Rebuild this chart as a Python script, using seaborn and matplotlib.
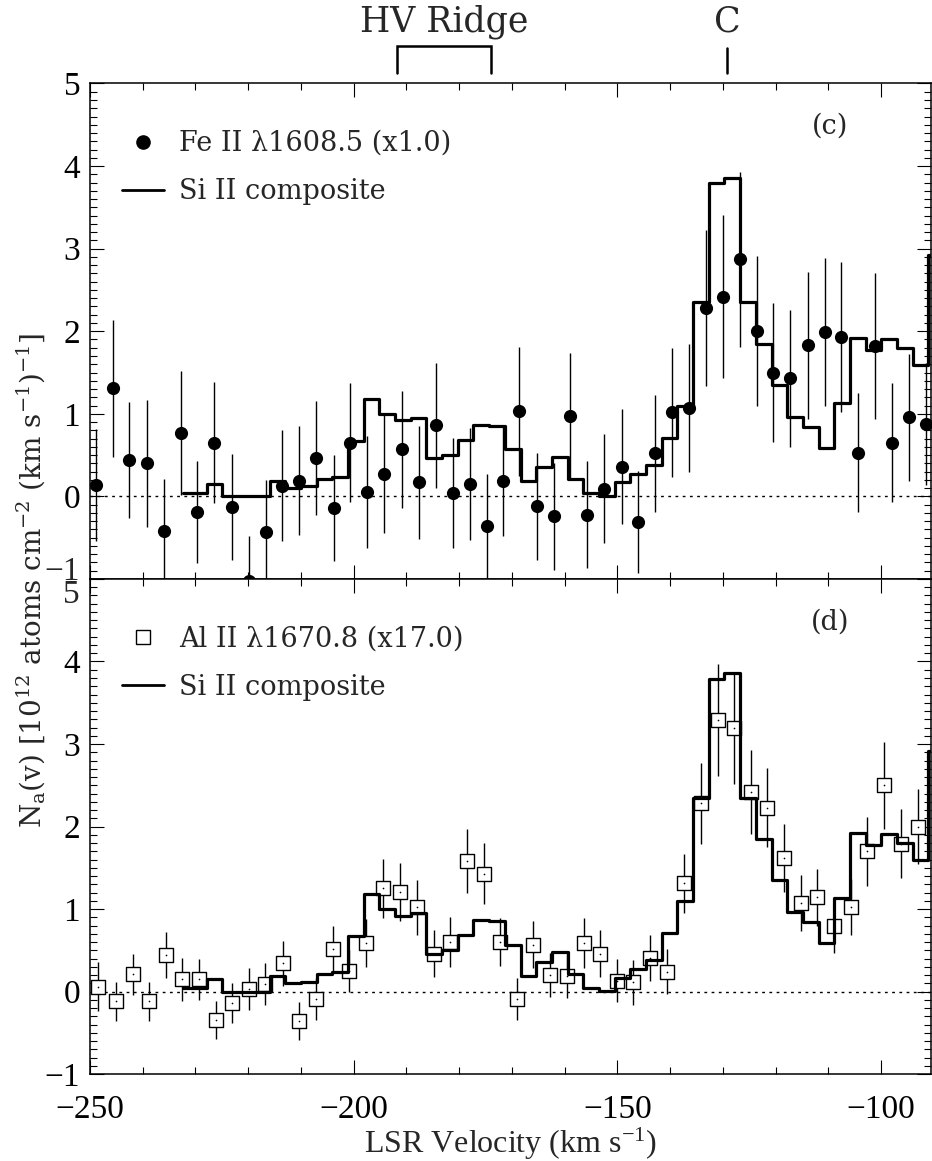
import matplotlib
matplotlib.use("Agg")
import matplotlib.pyplot as plt
import matplotlib.transforms as mtransforms
from matplotlib.ticker import MultipleLocator, FuncFormatter
from matplotlib.lines import Line2D
import seaborn as sns

# ---------------------------------------------------------------- data
# Fe II 1608.5 apparent column density profile (x1.0)
fe_vel = [-248.9, -245.7, -242.5, -239.2, -236.0, -232.8, -229.7, -226.4, -223.1, -219.9,
          -216.7, -213.5, -210.3, -207.1, -203.8, -200.6, -197.4, -194.2, -190.9, -187.7,
          -184.4, -181.2, -178.0, -174.8, -171.6, -168.6, -165.3, -162.1, -159.0, -155.7,
          -152.5, -149.2, -146.1, -142.9, -139.7, -136.4, -133.2, -130.0, -126.8, -123.6,
          -120.4, -117.2, -113.9, -110.7, -107.6, -104.3, -101.1, -97.9, -94.7, -91.4]
fe_na = [0.14, 1.31, 0.44, 0.40, -0.42, 0.77, -0.19, 0.65, -0.13, -1.02,
         -0.43, 0.13, 0.19, 0.47, -0.14, 0.65, 0.05, 0.27, 0.57, 0.17,
         0.86, 0.04, 0.15, -0.36, 0.19, 1.03, -0.12, -0.24, 0.97, -0.22,
         0.09, 0.36, -0.31, 0.52, 1.02, 1.07, 2.28, 2.42, 2.87, 2.00,
         1.50, 1.43, 1.83, 1.99, 1.93, 0.53, 1.82, 0.65, 0.96, 0.88]
fe_err = [0.68, 0.83, 0.70, 0.77, 0.63, 0.75, 0.62, 0.73, 0.64, 0.54,
          0.63, 0.67, 0.66, 0.69, 0.64, 0.72, 0.68, 0.71, 0.71, 0.68,
          0.76, 0.67, 0.68, 0.63, 0.67, 0.78, 0.65, 0.65, 0.77, 0.65,
          0.66, 0.70, 0.62, 0.71, 0.78, 0.77, 0.94, 0.99, 1.06, 0.91,
          0.84, 0.83, 0.89, 0.90, 0.91, 0.72, 0.88, 0.72, 0.77, 0.74]

# Al II 1670.8 apparent column density profile (x17.0)
al_vel = [-248.4, -245.1, -241.9, -238.8, -235.6, -232.5, -229.3, -226.1, -223.0, -219.8,
          -216.8, -213.4, -210.3, -207.1, -203.9, -200.8, -197.6, -194.4, -191.2, -188.0,
          -184.8, -181.7, -178.5, -175.3, -172.2, -169.1, -165.9, -162.8, -159.6, -156.4,
          -153.3, -150.1, -147.0, -143.8, -140.5, -137.4, -134.2, -131.0, -127.9, -124.7,
          -121.6, -118.4, -115.2, -112.1, -108.9, -105.7, -102.6, -99.4, -96.2, -93.0]
al_na = [0.06, -0.12, 0.21, -0.12, 0.44, 0.15, 0.15, -0.35, -0.14, 0.03,
         0.09, 0.34, -0.36, -0.09, 0.51, 0.25, 0.59, 1.25, 1.21, 1.02,
         0.46, 0.60, 1.58, 1.43, 0.60, -0.09, 0.57, 0.20, 0.19, 0.59,
         0.46, 0.13, 0.11, 0.41, 0.24, 1.31, 2.28, 3.29, 3.19, 2.42,
         2.23, 1.62, 1.07, 1.14, 0.79, 1.02, 1.70, 2.50, 1.79, 2.00]
al_err = [0.30, 0.24, 0.25, 0.24, 0.28, 0.26, 0.25, 0.23, 0.24, 0.25,
          0.25, 0.27, 0.23, 0.25, 0.28, 0.25, 0.29, 0.36, 0.35, 0.33,
          0.28, 0.30, 0.39, 0.37, 0.29, 0.25, 0.29, 0.27, 0.27, 0.30,
          0.28, 0.26, 0.27, 0.28, 0.27, 0.36, 0.49, 0.68, 0.67, 0.51,
          0.48, 0.41, 0.34, 0.35, 0.32, 0.34, 0.42, 0.53, 0.42, 0.45]

# Si II composite profile (histogram, bin centres)
si_vel = [-232.31, -229.34, -226.36, -223.39, -220.41, -217.44, -214.46, -211.49, -208.51, -205.54,
          -202.57, -199.59, -196.62, -193.64, -190.67, -187.69, -184.72, -181.74, -178.77, -175.79,
          -172.82, -169.85, -166.87, -163.90, -160.92, -157.95, -154.97, -152.00, -149.02, -146.05,
          -143.08, -140.10, -137.13, -134.15, -131.18, -128.20, -125.23, -122.25, -119.28, -116.31,
          -113.33, -110.36, -107.38, -104.41, -101.43, -98.46, -95.48, -92.51, -89.54]
si_na = [0.04, 0.04, 0.15, 0.00, 0.00, 0.00, 0.19, 0.10, 0.12, 0.21,
         0.24, 0.67, 1.18, 1.00, 0.92, 0.95, 0.46, 0.50, 0.68, 0.87,
         0.85, 0.57, 0.19, 0.36, 0.48, 0.21, 0.04, 0.01, 0.17, 0.27,
         0.38, 0.71, 1.10, 2.35, 3.79, 3.86, 2.35, 1.85, 1.35, 0.96,
         0.84, 0.59, 1.13, 1.92, 1.77, 1.91, 1.80, 1.59, 2.92]

# velocity components marked above the plot
hv_ridge = (-191.7, -174.0)
comp_c = -129.2

x_ticks_major, x_ticks_minor = 50, 10
y_ticks_major, y_ticks_minor = 1, 0.1

# ---------------------------------------------------------------- style
sns.set_theme(style="ticks")
plt.rcParams.update({
    "font.family": ["DejaVu Serif"],
    "mathtext.fontset": "custom",
    "mathtext.rm": "Liberation Serif",
    "mathtext.it": "Liberation Serif:italic",
    "mathtext.bf": "Liberation Serif:bold",
    "axes.edgecolor": "black",
    "axes.linewidth": 1.1,
    "xtick.color": "black",
    "ytick.color": "black",
})

TICK_FAMILY, TICK_SIZE = "Liberation Serif", 24
LEGEND_SIZE = 19.5

fig = plt.figure(figsize=(9.32, 11.61), dpi=100)
ax1 = fig.add_axes([0.0965, 0.5013, 0.9020, 0.4268])
ax2 = fig.add_axes([0.0965, 0.0749, 0.9020, 0.4264])


def fmt_minus(val):
    return f"{val:.0f}".replace("-", "\u2212")


def draw_panel(ax, vel, na, err, marker, filled, label, tag, skip_label, shift_px):
    ax.axhline(0, color="black", lw=1.0, ls=(0, (2, 3.2)), zorder=1)
    ax.errorbar(vel, na, yerr=err, fmt="none", ecolor="black", elinewidth=1.0,
                capsize=0, zorder=2)
    if filled:
        sns.scatterplot(x=vel, y=na, ax=ax, marker=marker, s=90, color="black",
                        edgecolor="black", linewidth=0, zorder=3)
    else:
        sns.scatterplot(x=vel, y=na, ax=ax, marker=marker, s=95, facecolor="white",
                        edgecolor="black", linewidth=1.0, zorder=3)
        sns.scatterplot(x=vel, y=na, ax=ax, marker="o", s=1.5, color="black",
                        linewidth=0, zorder=3.5)
    sns.lineplot(x=si_vel, y=si_na, ax=ax, drawstyle="steps-mid", estimator=None,
                 sort=False, color="black", lw=2.3, zorder=4)

    ax.set_xlim(-250, -90.6)
    ax.set_ylim(-1, 5)
    ax.xaxis.set_major_locator(MultipleLocator(x_ticks_major))
    ax.xaxis.set_minor_locator(MultipleLocator(x_ticks_minor))
    ax.yaxis.set_major_locator(MultipleLocator(y_ticks_major))
    ax.yaxis.set_minor_locator(MultipleLocator(y_ticks_minor))
    ax.xaxis.set_major_formatter(FuncFormatter(lambda v, p: fmt_minus(v)))
    ax.yaxis.set_major_formatter(
        FuncFormatter(lambda v, p: "" if abs(v - skip_label) < 1e-6 else fmt_minus(v)))
    ax.tick_params(which="both", direction="in", top=True, right=True, width=0.8)
    ax.tick_params(which="major", length=10)
    ax.tick_params(which="minor", length=5)
    ax.tick_params(axis="y", pad=7)
    ax.tick_params(axis="x", pad=15)
    for t in ax.get_xticklabels() + ax.get_yticklabels():
        t.set_fontfamily(TICK_FAMILY)
        t.set_fontsize(TICK_SIZE)
    ax.set_xlabel("")
    ax.set_ylabel("")

    # the label shared by the panel boundary, nudged off the neighbour's label
    shift = mtransforms.ScaledTranslation(-10 / 100, shift_px / 100, fig.dpi_scale_trans)
    ytrans = mtransforms.blended_transform_factory(ax.transAxes, ax.transData) + shift
    ax.text(0, skip_label, fmt_minus(skip_label), transform=ytrans, ha="right",
            va="center_baseline", family=TICK_FAMILY, fontsize=TICK_SIZE)

    if filled:
        key = Line2D([], [], ls="none", marker=marker, ms=9.5, color="black")
    else:
        key = Line2D([], [], ls="none", marker=marker, ms=9.5, mfc="white",
                     mec="black", mew=1.0)
    line_key = Line2D([], [], color="black", lw=2.0)
    ax.legend([key, line_key], [label, "Si II composite"], loc="upper left",
              bbox_to_anchor=(0.038, 0.906), frameon=False, borderpad=0,
              borderaxespad=0, handlelength=1.55, handletextpad=0.55,
              labelspacing=0.78, prop=dict(family="DejaVu Serif", size=LEGEND_SIZE))
    ax.text(-109.7, 4.48, tag, ha="center", va="center", fontsize=LEGEND_SIZE,
            family="DejaVu Serif")


draw_panel(ax1, fe_vel, fe_na, fe_err, "o", True, "Fe II \u03bb1608.5 (x1.0)", "(c)",
           -1, 11)
draw_panel(ax2, al_vel, al_na, al_err, "s", False, "Al II \u03bb1670.8 (x17.0)", "(d)",
           5, -12)
ax1.tick_params(labelbottom=False)

ax2.set_xlabel("LSR Velocity (km s$^{-1}$)", family="Liberation Serif", fontsize=23,
               labelpad=0)

fig.text(0.034, 0.5, r"N$_\mathrm{a}$(v) [10$^{12}$ atoms cm$^{-2}$ (km s$^{-1}$)$^{-1}$]",
         rotation=90, ha="center", va="center", fontsize=20, family="DejaVu Serif",
         math_fontfamily="dejavuserif")

# component markers above the upper panel
trans = mtransforms.blended_transform_factory(ax1.transData, ax1.transAxes)
ax1.plot([hv_ridge[0], hv_ridge[0], hv_ridge[1], hv_ridge[1]],
         [1.021, 1.0757, 1.0757, 1.021], transform=trans, color="black", lw=1.8,
         clip_on=False, solid_joinstyle="miter")
ax1.plot([comp_c, comp_c], [1.021, 1.071], transform=trans, color="black", lw=1.8,
         clip_on=False)
ax1.text(sum(hv_ridge) / 2, 1.125, "HV Ridge", transform=trans, ha="center",
         va="center", fontsize=25, family="DejaVu Serif")
ax1.text(comp_c, 1.125, "C", transform=trans, ha="center", va="center",
         fontsize=25, family="DejaVu Serif")

fig.savefig("out.png", dpi=100)
